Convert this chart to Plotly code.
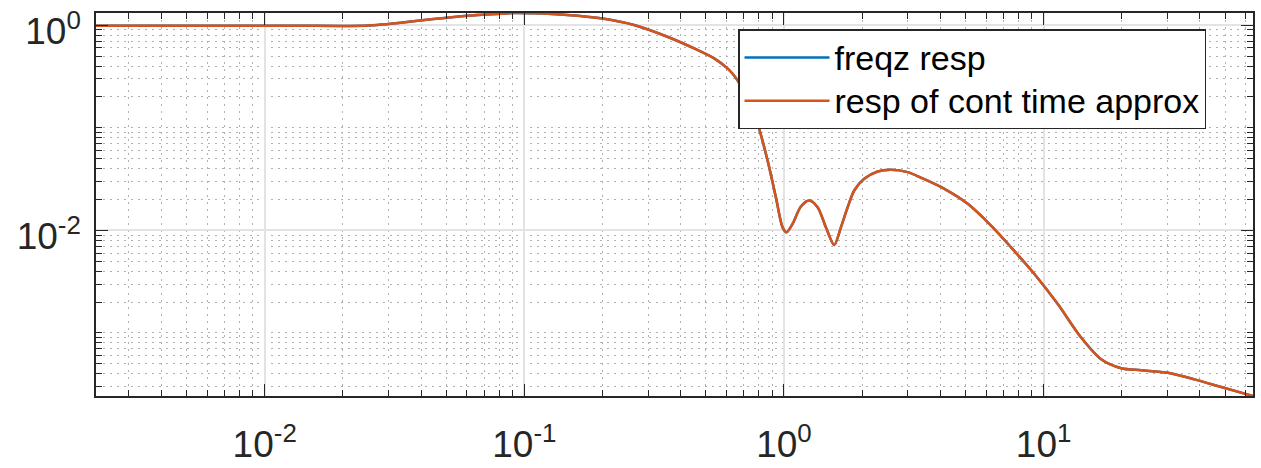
import numpy as np
import plotly.graph_objects as go

# ---- data (frequency, magnitude) ----
freq = [0.00224, 0.005, 0.01, 0.0137, 0.0214, 0.0271, 0.0334, 0.0447, 0.0603, 0.0811,
        0.0910, 0.1087, 0.1466, 0.1968, 0.2646, 0.3556, 0.4508, 0.5383, 0.6062, 0.6625,
        0.724, 0.7911, 0.8645, 0.9307, 0.9877, 1.0233, 1.0793, 1.162, 1.2506, 1.3477,
        1.4505, 1.5614, 1.657, 1.759, 1.865, 2.038, 2.296, 2.583, 2.996, 3.372,
        4.147, 5.104, 6.274, 7.495, 9.218, 11.34, 13.95, 16.66, 19.90, 23.76,
        30.12, 38.14, 48.33, 64.05]
mag_freqz = [0.99, 0.99, 0.99, 0.989, 0.985, 1.008, 1.058, 1.150, 1.238, 1.296,
             1.316, 1.307, 1.258, 1.168, 1.005, 0.772, 0.594, 0.475, 0.379, 0.291,
             0.1857, 0.110, 0.0481, 0.0211, 0.0107, 0.00958, 0.01157, 0.01708, 0.01956, 0.01682,
             0.01072, 0.0072, 0.01072, 0.01682, 0.02449, 0.03187, 0.03756, 0.03902, 0.03698, 0.0326,
             0.02544, 0.01816, 0.01114, 0.00684, 0.003756, 0.001912, 0.000902, 0.000554, 0.000453, 0.000433,
             0.00041, 0.000353, 0.000297, 0.000243]
mag_cont = list(mag_freqz)  # continuous-time approximation overlaps the freqz response

series_names = ["freqz resp", "resp of cont time approx"]
x_tickvals = [0.01, 0.1, 1, 10]
x_ticktext = ["10<sup>-2</sup>", "10<sup>-1</sup>", "10<sup>0</sup>", "10<sup>1</sup>"]
y_tickvals = [0.01, 1]
y_ticktext = ["10<sup>-2</sup>", "10<sup>0</sup>"]

BLUE = "#0072BD"
ORANGE = "#D95319"
AX = "#262626"
FONT = "Liberation Sans, Arial, Helvetica, sans-serif"


def legend_label(s):
    return '<span style="font-size:34px">' + s + "</span>"


fig = go.Figure()
fig.add_trace(go.Scatter(x=freq, y=mag_freqz, mode="lines", name=legend_label(series_names[0]),
                         line=dict(color=BLUE, width=2.5, shape="spline", smoothing=0.8)))
fig.add_trace(go.Scatter(x=freq, y=mag_cont, mode="lines", name=legend_label(series_names[1]),
                         line=dict(color=ORANGE, width=2.5, shape="spline", smoothing=0.8)))


# minor tick positions: every integer multiple 1..9 of each decade
def minor_vals(lo, hi, majors):
    vals = []
    for e in range(lo, hi + 1):
        for k in range(1, 10):
            v = k * 10.0 ** e
            if not any(abs(v - m) / m < 1e-9 for m in majors):
                vals.append(v)
    return vals


xr = [np.log10(min(freq)), np.log10(max(freq))]
allm = mag_freqz + mag_cont
yr = [np.log10(min(allm)), np.log10(max(allm))]

MINOR_GRID = dict(ticks="inside", ticklen=6, tickwidth=1.2, tickcolor=AX,
                  showgrid=True, gridcolor="#b0b0b0", griddash="2px,5px", gridwidth=1)

common = dict(
    type="log", showline=True, linecolor=AX, linewidth=1.5, mirror="allticks",
    ticks="inside", ticklen=12, tickwidth=1.2, tickcolor=AX,
    showgrid=True, gridcolor="#e3e3e3", gridwidth=1.5, zeroline=False,
    tickfont=dict(family=FONT, size=37, color=AX),
    tickmode="array", ticklabeloverflow="allow", automargin=False,
)

fig.update_xaxes(**common, range=xr, tickvals=x_tickvals, ticktext=x_ticktext,
                 ticklabelstandoff=15,
                 minor=dict(tickmode="array", tickvals=minor_vals(-3, 1, x_tickvals), **MINOR_GRID))
fig.update_yaxes(**common, range=yr, tickvals=y_tickvals, ticktext=y_ticktext,
                 ticklabelstandoff=6, ticklabelshift=6,
                 minor=dict(tickmode="array", tickvals=minor_vals(-4, 0, y_tickvals), **MINOR_GRID))

fig.update_layout(
    width=1261, height=468,
    margin=dict(l=96, r=8, t=13, b=72),
    paper_bgcolor="white", plot_bgcolor="white",
    font=dict(family=FONT, color=AX),
    legend=dict(x=0.5549, y=0.9574, xanchor="left", yanchor="top",
                bgcolor="white", bordercolor=AX, borderwidth=1.5,
                font=dict(family=FONT, size=31, color="black"),
                itemwidth=85, tracegroupgap=0),
    showlegend=True,
)

fig.write_html("out.html", config={"displayModeBar": False},
               post_script="document.body.style.margin='0';document.body.style.overflow='hidden';")
